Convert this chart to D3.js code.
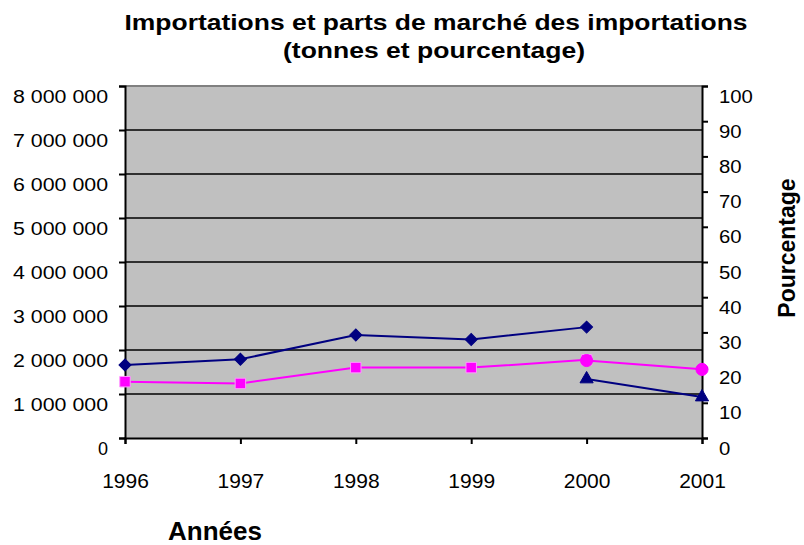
<!DOCTYPE html>
<html>
<head>
<meta charset="utf-8">
<script src="https://cdn.jsdelivr.net/npm/d3@7"></script>
<style>
  body { margin: 0; background: #fff; }
  text { font-family: "Liberation Sans", Arial, sans-serif; }
</style>
</head>
<body>
<div id="chart"></div>
<script>
// data
const years = [1996, 1997, 1998, 1999, 2000, 2001]
const importsA = [1660000, 1790000, 2340000, 2240000, 2520000, null]   // diamonds, tonnes
const importsB = [null, null, null, null, 1340000, 930000]             // triangles, tonnes
const shareA = [16.0, 15.5, 20.0, 20.0, 22.2, null]                    // squares, %
const shareB = [null, null, null, null, 22.0, 19.5]                    // circles, %
const leftTicks = [0, 1000000, 2000000, 3000000, 4000000, 5000000, 6000000, 7000000, 8000000]
const rightTicks = [0, 10, 20, 30, 40, 50, 60, 70, 80, 90, 100]

const width = 804, height = 545
const plot = { left: 125, right: 702, top: 86, bottom: 438 }

const svg = d3.select('#chart').append('svg')
    .attr('width', width)
    .attr('height', height)

const x = d3.scalePoint().domain(years).range([plot.left, plot.right])
const yL = d3.scaleLinear().domain([0, 8000000]).range([plot.bottom, plot.top])
const yR = d3.scaleLinear().domain([0, 100]).range([plot.bottom, plot.top])

// plot background
svg.append('rect')
    .attr('x', plot.left).attr('y', plot.top)
    .attr('width', plot.right - plot.left).attr('height', plot.bottom - plot.top)
    .attr('fill', '#c0c0c0')
svg.append('line')
    .attr('x1', plot.left).attr('x2', plot.right)
    .attr('y1', plot.top).attr('y2', plot.top)
    .attr('stroke', '#808080').attr('stroke-width', 2)

// gridlines
svg.selectAll('.grid')
    .data(leftTicks.filter(d => d > 0 && d < 8000000))
    .enter().append('line')
    .attr('class', 'grid')
    .attr('x1', plot.left).attr('x2', plot.right)
    .attr('y1', d => yL(d)).attr('y2', d => yL(d))
    .attr('stroke', '#000').attr('stroke-width', 1.5)

const fmt = d => d3.format(',')(d).replace(/,/g, '\u00a0')

// left axis (labels are drawn a bit wider, like the original)
const leftAxis = svg.append('g')
    .attr('transform', 'translate(' + plot.left + ',0)')
    .call(d3.axisLeft(yL).tickValues(leftTicks).tickFormat(fmt).tickSize(6).tickPadding(11))
leftAxis.selectAll('text')
    .attr('dy', 0).attr('y', 16)
    .style('font-size', '18px').attr('fill', '#000')
    .attr('textLength', d => d > 0 ? 95 : null)
    .attr('lengthAdjust', 'spacingAndGlyphs')

// right axis
const rightAxis = svg.append('g')
    .attr('transform', 'translate(' + plot.right + ',0)')
    .call(d3.axisRight(yR).tickValues(rightTicks).tickSize(6).tickPadding(11))
rightAxis.selectAll('text')
    .attr('dy', 0).attr('y', 16)
    .style('font-size', '18px').attr('fill', '#000')
    .attr('textLength', d => String(d).length * 11.3)
    .attr('lengthAdjust', 'spacingAndGlyphs')

// bottom axis
const bottomAxis = svg.append('g')
    .attr('transform', 'translate(0,' + plot.bottom + ')')
    .call(d3.axisBottom(x).tickSize(6))
bottomAxis.selectAll('text')
    .attr('dy', 0).attr('y', 50)
    .style('font-size', '21px').attr('fill', '#000')

svg.selectAll('.domain').attr('stroke', '#000').attr('stroke-width', 2)
svg.selectAll('.tick line').attr('stroke', '#000').attr('stroke-width', 2)

// series
const marker = {
    diamond: { type: d3.symbolSquare, size: 72, rotate: 45 },
    square: { type: d3.symbolSquare, size: 110, rotate: 0 },
    triangle: { type: d3.symbolTriangle, size: 75, rotate: 0 },
    circle: { type: d3.symbolCircle, size: 115, rotate: 0 }
}

function drawSeries(values, yScale, color, m, outline) {
    const pts = years.map((yr, i) => ({ yr, v: values[i] })).filter(d => d.v != null)
    const line = d3.line().x(d => x(d.yr)).y(d => yScale(d.v))
    svg.append('path')
        .datum(pts)
        .attr('d', line)
        .attr('fill', 'none')
        .attr('stroke', color)
        .attr('stroke-width', 2)
    svg.selectAll(null)
        .data(pts)
        .enter().append('path')
        .attr('transform', d => 'translate(' + x(d.yr) + ',' + yScale(d.v) + ') rotate(' + m.rotate + ')')
        .attr('d', d3.symbol().type(m.type).size(m.size))
        .attr('fill', color)
        .attr('stroke', outline)
        .attr('stroke-width', 1)
}

drawSeries(importsA, yL, '#000080', marker.diamond, '#000080')
drawSeries(shareA, yR, '#ff00ff', marker.square, '#ff99ff')
drawSeries(importsB, yL, '#000080', marker.triangle, '#000080')
drawSeries(shareB, yR, '#ff00ff', marker.circle, '#ff00ff')

// titles
svg.append('text')
    .attr('x', 436).attr('y', 30)
    .attr('text-anchor', 'middle')
    .attr('textLength', 623).attr('lengthAdjust', 'spacingAndGlyphs')
    .style('font-size', '22px').style('font-weight', 'bold')
    .text('Importations et parts de marché des importations')
svg.append('text')
    .attr('x', 434).attr('y', 58)
    .attr('text-anchor', 'middle')
    .attr('textLength', 302).attr('lengthAdjust', 'spacingAndGlyphs')
    .style('font-size', '22px').style('font-weight', 'bold')
    .text('(tonnes et pourcentage)')

svg.append('text')
    .attr('transform', 'translate(795,248) rotate(-90)')
    .attr('text-anchor', 'middle')
    .style('font-size', '23px').style('font-weight', 'bold')
    .text('Pourcentage')

svg.append('text')
    .attr('x', 215).attr('y', 540)
    .attr('text-anchor', 'middle')
    .style('font-size', '26px').style('font-weight', 'bold')
    .text('Années')
</script>
</body>
</html>
